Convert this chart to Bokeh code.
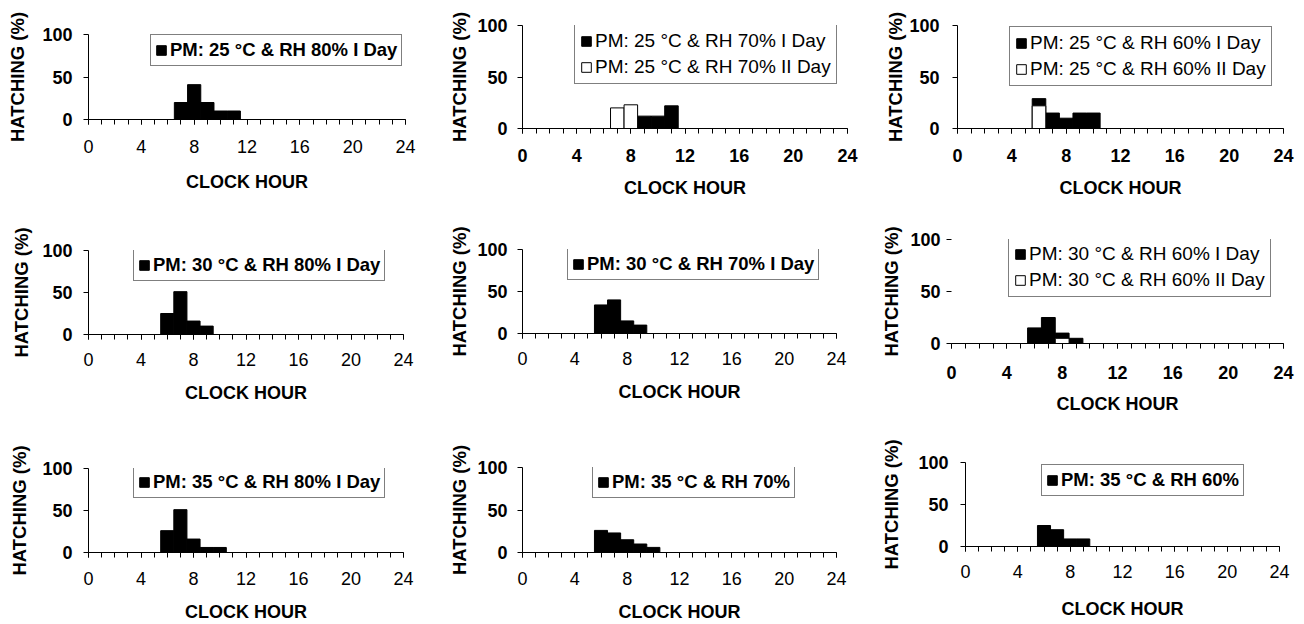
from bokeh.plotting import figure
from bokeh.layouts import column, row
from bokeh.models import Legend, LegendItem, FixedTicker, Range1d
from bokeh.embed import file_html
from bokeh.resources import INLINE

FONT = "Liberation Sans"

# ---- data (hour of day, % hatching) ----
x_ticks = [0, 4, 8, 12, 16, 20, 24]
hours = list(range(25))
y_ticks = [0, 50, 100]

p1_hours = [7, 8, 9, 10, 11]
p1_day1 = [20, 41, 20, 10, 10]

p2_hours_day1 = [9, 10, 11]
p2_day1 = [12, 12, 22]
p2_hours_day2 = [7, 8]
p2_day2 = [20, 23]

p3_hours_day1 = [6, 7, 8, 9, 10]
p3_day1 = [29, 15, 10, 15, 15]
p3_hours_day2 = [6]
p3_day2 = [22]

p4_hours = [6, 7, 8, 9]
p4_day1 = [25, 51, 16, 10]

p5_hours = [6, 7, 8, 9]
p5_day1 = [34, 40, 15, 10]

p6_hours_day1 = [6, 7, 8, 9]
p6_day1 = [15, 25, 10, 5]
p6_hours_day2 = [8]
p6_day2 = [5]

p7_hours = [6, 7, 8, 9, 10]
p7_day1 = [26, 51, 16, 6, 6]

p8_hours = [6, 7, 8, 9, 10]
p8_day1 = [26, 23, 15, 10, 6]

p9_hours = [6, 7, 8, 9]
p9_day1 = [25, 20, 9, 9]

labels = [
    ["PM: 25 °C & RH 80% I Day"],
    ["PM: 25 °C & RH 70% I Day", "PM: 25 °C & RH 70% II Day"],
    ["PM: 25 °C & RH 60% I Day", "PM: 25 °C & RH 60% II Day"],
    ["PM: 30 °C & RH 80% I Day"],
    ["PM: 30 °C & RH 70% I Day"],
    ["PM: 30 °C & RH 60% I Day", "PM: 30 °C & RH 60% II Day"],
    ["PM: 35 °C & RH 80% I Day"],
    ["PM: 35 °C & RH 70%"],
    ["PM: 35 °C & RH 60%"],
]

series = [
    [(p1_hours, p1_day1)],
    [(p2_hours_day1, p2_day1), (p2_hours_day2, p2_day2)],
    [(p3_hours_day1, p3_day1), (p3_hours_day2, p3_day2)],
    [(p4_hours, p4_day1)],
    [(p5_hours, p5_day1)],
    [(p6_hours_day1, p6_day1), (p6_hours_day2, p6_day2)],
    [(p7_hours, p7_day1)],
    [(p8_hours, p8_day1)],
    [(p9_hours, p9_day1)],
]

# ---- layout (sizes/borders) ----
# (width, height, left, right, top, bottom, legend_loc, bold_text,
#  ytick_standoff, ylabel_standoff, xtick_standoff, xlabel_standoff, yaxis_line)
layout = [
    (430, 200, 88, 25, 34, 81, (62, 53), True, 11, 11, 15, 16, True),
    (440, 200, 92, 23, 25, 70, (52, 44), False, 10, 4, 15, 13, True),
    (434, 200, 87, 21, 25, 71, (52, 42), False, 13, 0, 15, 13, True),
    (430, 210, 88, 27, 50, 76, (45, 53), True, 11, 7, 13, 14, True),
    (440, 210, 92, 34, 49, 77, (45, 53), True, 10, 4, 13, 14, True),
    (434, 216, 81, 21, 39, 71, (57, 46), False, 6, 5, 17, 12, False),
    (430, 214, 88, 27, 58, 71, (45, 54), True, 11, 9, 14, 14, True),
    (440, 214, 92, 34, 57, 72, (70, 54), True, 10, 4, 14, 14, True),
    (434, 208, 95, 25, 46, 78, (76, 50), True, 12, 13, 13, 18, True),
]

colors = ["black", "white"]


def make(i):
    w, h, bl, br, bt, bb, loc, bold, yts, yls, xts, xls, yline = layout[i]
    p = figure(width=w, height=h, output_backend="svg", toolbar_location=None,
               x_range=Range1d(0, 24), y_range=Range1d(0, 100),
               min_border_left=bl, min_border_right=br,
               min_border_top=bt, min_border_bottom=bb)
    p.outline_line_color = None
    p.xgrid.visible = False
    p.ygrid.visible = False
    p.background_fill_color = "white"
    p.border_fill_color = "white"

    items = []
    for k, (hx, vals) in enumerate(series[i]):
        r = p.vbar(x=hx, top=vals, width=1, fill_color=colors[k],
                   line_color="black", line_width=1)
        items.append(LegendItem(label=labels[i][k], renderers=[r]))

    two = len(items) > 1
    leg = Legend(items=items, location=loc,
                 label_text_font=FONT,
                 label_text_font_size="18.5px" if bold else "19px",
                 label_text_font_style="bold" if bold else "normal",
                 label_text_color="black",
                 glyph_width=12, glyph_height=12, label_standoff=3,
                 label_height=20 if two else 18,
                 spacing=4 if two else 2, padding=5 if two else 4, margin=0,
                 border_line_color="black", border_line_width=1,
                 background_fill_color="white", background_fill_alpha=1)
    p.add_layout(leg)

    xa = p.xaxis[0]
    xa.ticker = FixedTicker(ticks=x_ticks, minor_ticks=hours)
    xa.major_tick_out = 5
    xa.major_tick_in = 0
    xa.minor_tick_out = 5
    xa.minor_tick_in = 0
    xa.axis_line_color = "black"
    xa.major_tick_line_color = "black"
    xa.minor_tick_line_color = "black"
    xa.major_label_text_font = FONT
    xa.major_label_text_font_size = "18px"
    xa.major_label_text_font_style = "normal" if bold else "bold"
    xa.major_label_text_color = "black"
    xa.major_label_standoff = xts
    xa.axis_label = "CLOCK HOUR"
    xa.axis_label_text_font = FONT
    xa.axis_label_text_font_size = "18px"
    xa.axis_label_text_font_style = "bold"
    xa.axis_label_text_color = "black"
    xa.axis_label_standoff = xls

    ya = p.yaxis[0]
    ya.ticker = FixedTicker(ticks=y_ticks, minor_ticks=[])
    ya.major_tick_out = 5
    ya.major_tick_in = 0
    ya.axis_line_color = "black" if yline else None
    ya.major_tick_line_color = "black"
    ya.major_label_text_font = FONT
    ya.major_label_text_font_size = "18px"
    ya.major_label_text_font_style = "bold"
    ya.major_label_text_color = "black"
    ya.major_label_standoff = yts
    ya.axis_label = "HATCHING (%)"
    ya.axis_label_text_font = FONT
    ya.axis_label_text_font_size = "18.5px"
    ya.axis_label_text_font_style = "bold"
    ya.axis_label_text_color = "black"
    ya.axis_label_standoff = yls
    return p


figs = [make(i) for i in range(9)]
# wrap each figure in its own container so frames are not aligned together
cells = [row(f, spacing=0) for f in figs]
page = row(column(cells[0], cells[3], cells[6], spacing=0),
           column(cells[1], cells[4], cells[7], spacing=0),
           column(cells[2], cells[5], cells[8], spacing=0),
           spacing=0)

open("out.html", "w").write(file_html(page, INLINE))
